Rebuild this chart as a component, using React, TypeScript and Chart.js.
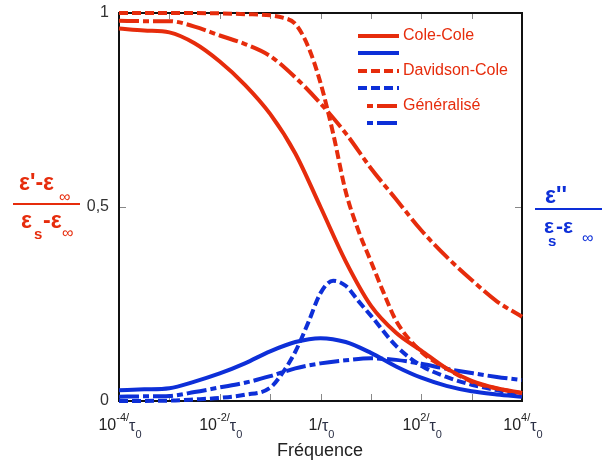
import React, { useEffect, useRef } from "react";
import { Chart, registerables } from "chart.js";

Chart.register(...registerables);

const RED = "#e62c0c";
const BLUE = "#0d2fd8";
const FONT = "'Liberation Sans', Arial, sans-serif";

// log10(f * tau0) grid
const grid = [-4, -3.5, -3, -2.5, -2, -1.5, -1, -0.5, 0, 0.5, 1, 1.5, 2, 2.5, 3, 3.5, 4];

// Cole-Cole
const coleColeReal = [0.96, 0.955, 0.95, 0.922, 0.875, 0.815, 0.74, 0.638, 0.5, 0.36, 0.246, 0.176, 0.13, 0.084, 0.052, 0.033, 0.021];
const coleColeImag = [0.028, 0.03, 0.033, 0.05, 0.071, 0.097, 0.128, 0.152, 0.162, 0.152, 0.124, 0.089, 0.06, 0.039, 0.025, 0.017, 0.011];

// Davidson-Cole
const dcRealX = [-4, -3, -2, -1.5, -1, -0.75, -0.5, -0.25, 0, 0.25, 0.5, 0.75, 1, 1.25, 1.5, 2, 2.5, 3, 3.5, 4];
const dcReal = [1.0, 1.0, 0.999, 0.997, 0.994, 0.988, 0.972, 0.915, 0.82, 0.69, 0.54, 0.44, 0.36, 0.28, 0.207, 0.127, 0.084, 0.05, 0.032, 0.02];
const dcImagX = [-4, -3, -2.5, -2, -1.5, -1, -0.75, -0.5, -0.25, 0, 0.25, 0.5, 0.75, 1, 1.5, 2, 2.5, 3, 3.5, 4];
const dcImag = [0.0, 0.001, 0.004, 0.008, 0.016, 0.034, 0.073, 0.127, 0.2, 0.278, 0.31, 0.297, 0.258, 0.22, 0.142, 0.091, 0.062, 0.042, 0.028, 0.015];

// Généralisé
const genReal = [0.98, 0.979, 0.979, 0.965, 0.942, 0.92, 0.889, 0.834, 0.767, 0.69, 0.6, 0.52, 0.44, 0.372, 0.312, 0.257, 0.217];
const genImag = [0.011, 0.012, 0.013, 0.023, 0.035, 0.047, 0.064, 0.084, 0.097, 0.105, 0.11, 0.106, 0.096, 0.083, 0.072, 0.062, 0.054];

const legendLabels = ["Cole-Cole", "Davidson-Cole", "Généralisé"];
const legendDashes: number[][] = [[], [9, 4], [20, 4, 6, 4]];

const yTickValues = [0, 0.5, 1];
const yTickLabels = ["0", "0,5", "1"];
const xTickValues = [-4, -2, 0, 2, 4];
const xTickBase = ["10", "10", "1/", "10", "10"];
const xTickExp = ["-4/", "-2/", "", "2/", "4/"];
const xMinorTicks = [-3, -2, -1, 0, 1, 2, 3];
const xTitle = "Fréquence";

const pts = (xs: number[], ys: number[]) => xs.map((x, i) => ({ x, y: ys[i] }));

const ds = (data: { x: number; y: number }[], color: string, dash: number[]) => ({
  data,
  borderColor: color,
  borderWidth: 4,
  borderDash: dash,
  borderCapStyle: "butt" as const,
  cubicInterpolationMode: "monotone" as const,
  pointRadius: 0,
  fill: false,
  clip: false as any,
});

const framePlugin = {
  id: "frame",
  beforeDatasetsDraw(chart: any) {
    const { ctx, chartArea: a, scales } = chart;
    ctx.save();
    // ticks
    ctx.strokeStyle = "#888";
    ctx.lineWidth = 1;
    ctx.beginPath();
    for (const v of xMinorTicks) {
      const x = Math.round(scales.x.getPixelForValue(v)) + 0.5;
      ctx.moveTo(x, a.top);
      ctx.lineTo(x, a.top + 6);
      ctx.moveTo(x, a.bottom);
      ctx.lineTo(x, a.bottom - 7);
    }
    const y5 = Math.round(scales.y.getPixelForValue(0.5)) + 0.5;
    ctx.moveTo(a.left, y5);
    ctx.lineTo(a.left + 7, y5);
    ctx.moveTo(a.right, y5);
    ctx.lineTo(a.right - 7, y5);
    ctx.stroke();
    // frame
    ctx.strokeStyle = "#111";
    ctx.lineWidth = 2;
    ctx.strokeRect(a.left, a.top, a.right - a.left, a.bottom - a.top);
    ctx.restore();
  },
  afterDraw(chart: any) {
    const { ctx, scales } = chart;
    ctx.save();
    // y tick labels
    ctx.fillStyle = "#333";
    ctx.font = `16px ${FONT}`;
    ctx.textAlign = "right";
    ctx.textBaseline = "middle";
    yTickValues.forEach((v, i) => {
      ctx.fillText(yTickLabels[i], 109, scales.y.getPixelForValue(v));
    });
    // x tick labels (composite with superscript / subscript)
    ctx.textAlign = "left";
    ctx.textBaseline = "alphabetic";
    xTickValues.forEach((v, i) => {
      const big = `16px ${FONT}`;
      const small = `11px ${FONT}`;
      ctx.font = big;
      const wBase = ctx.measureText(xTickBase[i]).width;
      const wTau = ctx.measureText("τ").width;
      ctx.font = small;
      const wExp = ctx.measureText(xTickExp[i]).width;
      const wSub = ctx.measureText("0").width;
      const total = wBase + wExp + wTau + wSub;
      let x = scales.x.getPixelForValue(v) + 1 - total / 2;
      ctx.fillStyle = "#222";
      ctx.font = big;
      ctx.fillText(xTickBase[i], x, 430);
      x += wBase;
      ctx.font = small;
      ctx.fillText(xTickExp[i], x, 421);
      x += wExp;
      ctx.font = big;
      ctx.fillStyle = "#2a2f45";
      ctx.fillText("τ", x, 431);
      x += wTau;
      ctx.font = small;
      ctx.fillText("0", x, 438);
    });
    // x title
    ctx.fillStyle = "#222";
    ctx.font = `18px ${FONT}`;
    ctx.textAlign = "center";
    ctx.fillText(xTitle, 320, 456);

    // legend
    ctx.textAlign = "left";
    ctx.textBaseline = "middle";
    legendLabels.forEach((lab, i) => {
      const yR = 36 + i * 35;
      const yB = yR + 17;
      const x0 = i === 2 ? 367 : 358;
      const x1 = i === 2 ? 397 : 399;
      ctx.lineWidth = 4;
      ctx.lineCap = "butt";
      ctx.setLineDash(legendDashes[i]);
      ctx.lineDashOffset = i === 2 ? 24 : 0;
      ctx.strokeStyle = RED;
      ctx.beginPath();
      ctx.moveTo(x0, yR);
      ctx.lineTo(x1, yR);
      ctx.stroke();
      ctx.strokeStyle = BLUE;
      ctx.beginPath();
      ctx.moveTo(x0, yB);
      ctx.lineTo(x1, yB);
      ctx.stroke();
      ctx.setLineDash([]);
      ctx.lineDashOffset = 0;
      ctx.fillStyle = RED;
      ctx.font = `16px ${FONT}`;
      ctx.fillText(lab, 403, yR);
    });

    // left title  (ε'-ε∞) / (εs-ε∞)
    ctx.textBaseline = "alphabetic";
    ctx.fillStyle = RED;
    ctx.font = `bold 23px ${FONT}`;
    ctx.fillText("ε'-ε", 19, 190);
    ctx.font = `16px ${FONT}`;
    ctx.fillText("∞", 59, 202);
    ctx.fillRect(13, 203, 67, 2);
    ctx.font = `bold 23px ${FONT}`;
    ctx.fillText("ε", 21, 228);
    ctx.font = `bold 15px ${FONT}`;
    ctx.fillText("s", 34, 239);
    ctx.font = `bold 23px ${FONT}`;
    ctx.fillText("-ε", 43, 228);
    ctx.font = `16px ${FONT}`;
    ctx.fillText("∞", 62, 238);

    // right title  ε'' / (εs-ε∞)
    ctx.fillStyle = BLUE;
    ctx.font = `bold 23px ${FONT}`;
    ctx.fillText("ε''", 545, 203);
    ctx.fillRect(535, 208, 67, 2);
    ctx.font = `bold 21px ${FONT}`;
    ctx.fillText("ε", 544, 233);
    ctx.font = `bold 15px ${FONT}`;
    ctx.fillText("s", 548, 246);
    ctx.font = `bold 21px ${FONT}`;
    ctx.fillText("-ε", 556, 233);
    ctx.font = `16px ${FONT}`;
    ctx.fillText("∞", 582, 243);
    ctx.restore();
  },
};

export default function App() {
  const ref = useRef<HTMLCanvasElement>(null);
  useEffect(() => {
    const canvas = ref.current;
    if (!canvas) return;
    const chart = new Chart(canvas, {
      type: "line",
      data: {
        datasets: [
          ds(pts(grid, coleColeReal), RED, []),
          ds(pts(dcRealX, dcReal), RED, [9, 4]),
          ds(pts(grid, genReal), RED, [20, 4, 6, 4]),
          ds(pts(grid, coleColeImag), BLUE, []),
          ds(pts(dcImagX, dcImag), BLUE, [9, 4]),
          ds(pts(grid, genImag), BLUE, [20, 4, 6, 4]),
        ] as any,
      },
      options: {
        animation: false,
        responsive: false,
        devicePixelRatio: 1,
        layout: { padding: { left: 119, right: 82, top: 13, bottom: 65 } },
        scales: {
          x: { type: "linear", min: -4, max: 4, display: false },
          y: { type: "linear", min: 0, max: 1, display: false },
        },
        plugins: { legend: { display: false }, tooltip: { enabled: false } },
        elements: { point: { radius: 0 } },
      },
      plugins: [framePlugin],
    });
    return () => chart.destroy();
  }, []);
  return (
    <div style={{ position: "fixed", left: 0, top: 0, width: 604, height: 466, background: "#fff" }}>
      <canvas ref={ref} width={604} height={466} style={{ display: "block", width: 604, height: 466 }} />
    </div>
  );
}
